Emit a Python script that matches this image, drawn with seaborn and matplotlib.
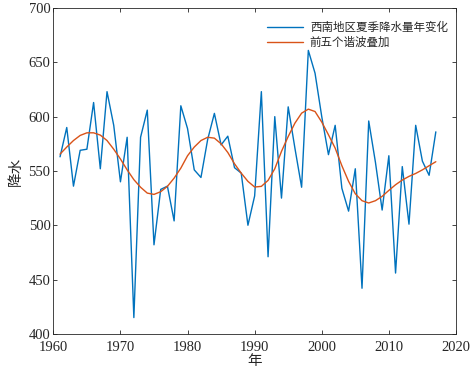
import numpy as np
import pandas as pd
import seaborn as sns
from matplotlib import pyplot as plt

years = list(range(1961, 2018))

# summer rainfall
rain = [563, 590, 536, 569, 570, 613, 552, 623, 592, 540,
        581, 415, 581, 606, 482, 533, 536, 504, 610, 589,
        551, 544, 579, 603, 574, 582, 553, 548, 500, 527,
        623, 471, 600, 525, 609, 571, 535, 661, 640, 600,
        565, 592, 534, 513, 552, 442, 596, 558, 514, 564,
        456, 554, 501, 592, 559, 546, 586]

# sum of first five harmonics
harmonics = [565.5, 572, 578, 582.7, 585.1, 585.1, 583, 578, 570, 561,
             551, 542, 535, 529.6, 528.4, 530.9, 535.8, 543.4, 552.6, 564,
             572, 578, 581, 580.2, 575, 567, 556.6, 548, 540.4, 535.2,
             535.8, 541.3, 552, 568, 581.7, 594, 603.2, 606.9, 604.7, 595,
             583.3, 571, 554.8, 540.4, 529, 522.6, 520.5, 522.6, 526.6, 532.1,
             537.3, 541.6, 545, 547.7, 551, 554.8, 558.5]

xticks = [1960, 1970, 1980, 1990, 2000, 2010, 2020]
yticks = [400, 450, 500, 550, 600, 650, 700]

label_raw = "西南地区夏季降水量年变化"
label_fit = "前五个谐波叠加"

df = pd.DataFrame({"year": years, "rain": rain, "fit": harmonics})

sns.set_theme(style="ticks")
plt.rcParams['font.family'] = ['Liberation Serif', 'Noto Sans CJK SC']
plt.rcParams['axes.unicode_minus'] = False

fig = plt.figure(figsize=(4.72, 3.82), dpi=100)
ax = fig.add_axes([0.113, 0.126, 0.853, 0.853])

sns.lineplot(data=df, x="year", y="rain", color="#0072BD", linewidth=1.0,
             label=label_raw, ax=ax)
sns.lineplot(data=df, x="year", y="fit", color="#D95319", linewidth=1.0,
             label=label_fit, ax=ax)

ax.set_xlim(1960, 2020)
ax.set_ylim(400, 700)
ax.set_xticks(xticks)
ax.set_yticks(yticks)
ax.tick_params(direction="in", top=True, right=True, length=3, width=0.6,
               labelsize=10.5, colors="#262626", pad=2)
ax.tick_params(axis="x", pad=5)
for sp in ax.spines.values():
    sp.set_linewidth(0.6)
    sp.set_color("#262626")

ax.set_xlabel("年", fontsize=10.5, color="#262626", labelpad=1)
ax.set_ylabel("降水", fontsize=10.5, color="#262626", labelpad=4)

leg = ax.legend(loc="upper right", bbox_to_anchor=(1.0, 0.982), frameon=False,
                fontsize=8.3, handlelength=3.1, handletextpad=0.6,
                borderaxespad=0.3, labelspacing=0.25)
for t in leg.get_texts():
    t.set_color("#262626")

fig.savefig("out.png", dpi=100)
